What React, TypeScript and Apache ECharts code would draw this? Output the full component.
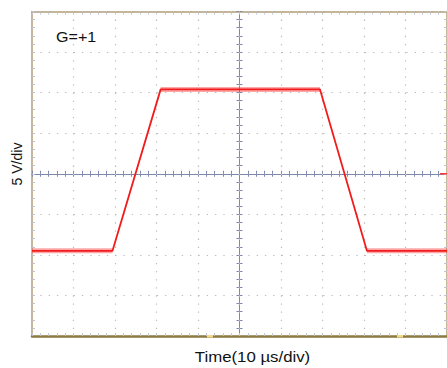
import React, { useEffect, useRef } from "react";
import * as echarts from "echarts";

// Time in µs (10 µs/div), voltage in V (5 V/div)
const timeRange = [-50, 50];
const voltRange = [-20, 20];
const traceTimes = [-50, -30.6, -19.0, 19.4, 30.7, 50];
const traceVolts = [-9.5, -9.5, 10.4, 10.4, -9.5, -9.5];
const flatSegments = [[0, 1], [2, 3], [4, 5]];

const xLabel = "Time(10 µs/div)";
const yLabel = "5 V/div";
const gainLabel = "G=+1";

const FONT = "'Liberation Sans', Arial, sans-serif";
const CROSS = "#7d88aa";
const TICK = "#c0c3d0";

export default function App() {
  const ref = useRef<HTMLDivElement>(null);
  useEffect(() => {
    if (!ref.current) return;
    const chart = echarts.init(ref.current, undefined, { renderer: "svg" });

    const trace = traceTimes.map((t, i) => [t, traceVolts[i]]);
    const flat: any[] = [];
    flatSegments.forEach(([a, b], k) => {
      if (k > 0) flat.push([null, null]);
      flat.push([traceTimes[a], traceVolts[a]]);
      flat.push([traceTimes[b], traceVolts[b]]);
    });

    const xBase = {
      type: "value",
      min: timeRange[0],
      max: timeRange[1],
      interval: 10,
      axisLabel: { show: false },
      splitLine: { show: false },
    };
    const yBase = {
      type: "value",
      min: voltRange[0],
      max: voltRange[1],
      interval: 5,
      axisLabel: { show: false },
      splitLine: { show: false },
    };
    const frameTick = (inside: boolean) => ({
      axisTick: { show: true, inside, length: 3, lineStyle: { color: TICK, width: 1 } },
      minorTick: { show: true, splitNumber: 5, length: 3, lineStyle: { color: TICK, width: 1 } },
    });
    const crossTick = (inside: boolean) => ({
      axisTick: { show: true, inside, length: 3, lineStyle: { color: CROSS, width: 1 } },
      minorTick: { show: true, splitNumber: 5, length: 3, lineStyle: { color: CROSS, width: 1 } },
    });

    chart.setOption({
      animation: false,
      backgroundColor: "#ffffff",
      grid: { left: 32, top: 11.5, width: 416, height: 324.5, containLabel: false },
      xAxis: [
        {
          ...xBase,
          position: "bottom",
          axisLine: { onZero: false, lineStyle: { color: "#8c7a40", width: 2.5 } },
          ...frameTick(true),
          splitLine: { show: true, lineStyle: { color: "#bcbcbc", width: 1.2, type: [1.3, 6.81] } },
          z: 1,
        },
        {
          ...xBase,
          position: "top",
          axisLine: { onZero: false, lineStyle: { color: "#b49e78", width: 1.5 } },
          ...frameTick(true),
        },
        {
          ...xBase,
          position: "bottom",
          axisLine: { onZero: true, onZeroAxisIndex: 0, lineStyle: { color: CROSS, width: 1 } },
          ...crossTick(false),
        },
        {
          ...xBase,
          position: "bottom",
          axisLine: { onZero: true, onZeroAxisIndex: 0, lineStyle: { color: CROSS, width: 1 } },
          ...crossTick(true),
        },
      ],
      yAxis: [
        {
          ...yBase,
          position: "left",
          axisLine: { onZero: false, lineStyle: { color: "#b49e78", width: 1.5 } },
          ...frameTick(true),
          splitLine: { show: true, lineStyle: { color: "#bcbcbc", width: 1.2, type: [1.3, 7.02] } },
        },
        {
          ...yBase,
          position: "right",
          axisLine: { onZero: false, lineStyle: { color: "#b49e78", width: 1.5 } },
          ...frameTick(true),
        },
        {
          ...yBase,
          position: "left",
          axisLine: { onZero: true, onZeroAxisIndex: 0, lineStyle: { color: CROSS, width: 1 } },
          ...crossTick(false),
        },
        {
          ...yBase,
          position: "left",
          axisLine: { onZero: true, onZeroAxisIndex: 0, lineStyle: { color: CROSS, width: 1 } },
          ...crossTick(true),
        },
      ],
      series: [
        {
          name: "flat",
          type: "line",
          xAxisIndex: 0,
          yAxisIndex: 0,
          data: flat,
          showSymbol: false,
          symbol: "none",
          connectNulls: false,
          lineStyle: { color: "#ff3a3a", width: 5, opacity: 0.45 },
          silent: true,
          z: 3,
        },
        {
          name: "trace",
          type: "line",
          xAxisIndex: 0,
          yAxisIndex: 0,
          data: trace,
          showSymbol: false,
          symbol: "none",
          lineStyle: { color: "#f21c1c", width: 1.8 },
          silent: true,
          z: 4,
        },
      ],
      graphic: [
        {
          type: "text",
          x: 56,
          y: 37,
          scaleX: 1.15,
          style: { text: gainLabel, font: `14px ${FONT}`, fill: "#111", textAlign: "left", textVerticalAlign: "middle" },
        },
        {
          type: "text",
          x: 252.5,
          y: 357.5,
          scaleX: 1.2,
          style: { text: xLabel, font: `14px ${FONT}`, fill: "#111", textAlign: "center", textVerticalAlign: "middle" },
        },
        {
          type: "text",
          x: 16.5,
          y: 164,
          rotation: Math.PI / 2,
          style: { text: yLabel, font: `14px ${FONT}`, fill: "#111", textAlign: "center", textVerticalAlign: "middle" },
        },
        {
          type: "line",
          shape: { x1: 440, y1: 173.75, x2: 448, y2: 173.75 },
          style: { stroke: "#ff3a3a", lineWidth: 1.5 },
          z: 10,
        },
        {
          type: "rect",
          shape: { x: 207, y: 335, width: 6, height: 2.5 },
          style: { fill: "#f3d98a" },
          z: 10,
        },
        {
          type: "rect",
          shape: { x: 397, y: 335, width: 6, height: 2.5 },
          style: { fill: "#f3d98a" },
          z: 10,
        },
      ],
    });
    return () => chart.dispose();
  }, []);
  return (
    <div
      ref={ref}
      style={{ position: "absolute", left: 0, top: 0, width: 447, height: 368 }}
    />
  );
}
